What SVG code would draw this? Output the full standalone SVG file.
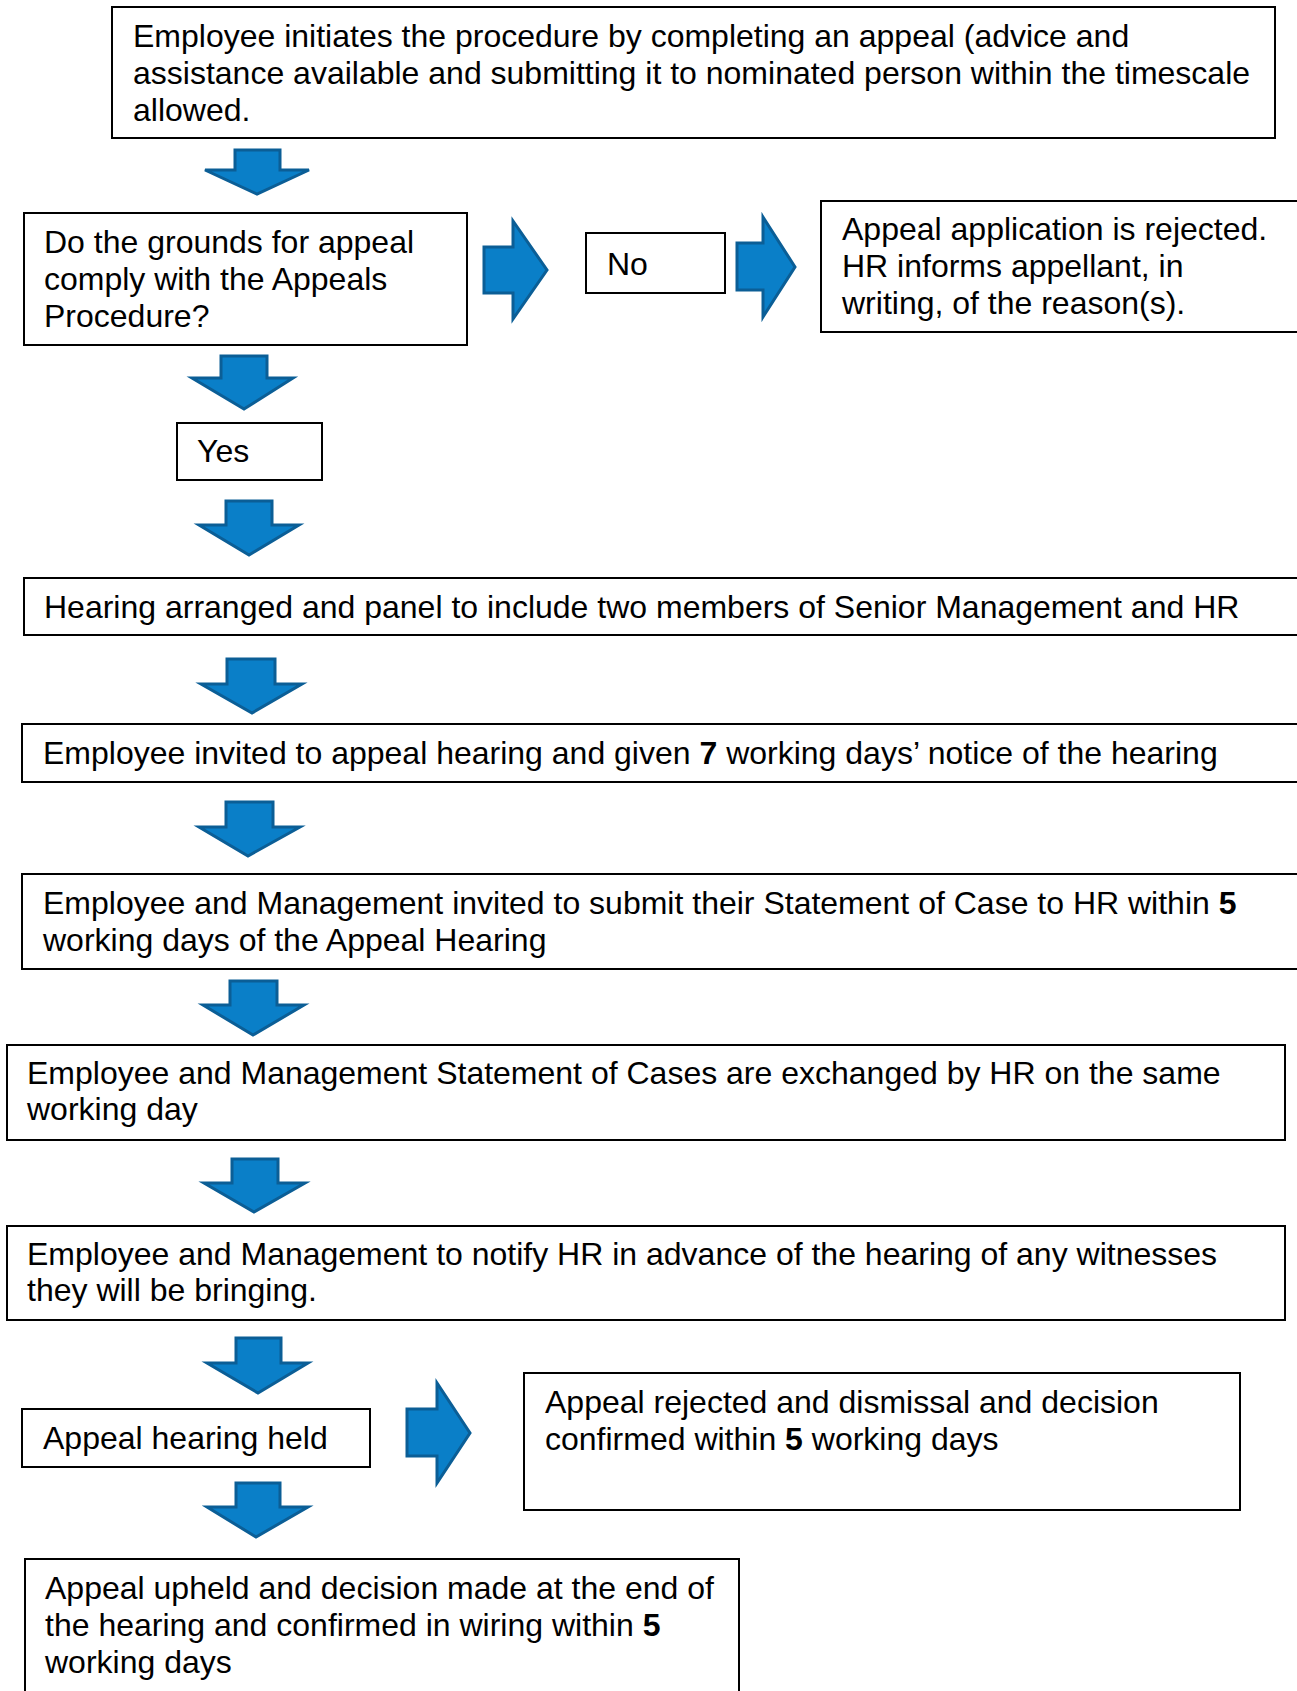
<svg xmlns="http://www.w3.org/2000/svg" width="1297" height="1691" viewBox="0 0 1297 1691">
<style>
.box{fill:#fff;stroke:#000;stroke-width:2}
.arr{fill:#0A7FC8;stroke:#0B5E96;stroke-width:3;stroke-linejoin:miter}
text{font-family:"Liberation Sans",Arial,sans-serif;font-size:32px;fill:#000}
.b{font-weight:bold}
</style>
<rect width="1297" height="1691" fill="#fff"/>
<g id="connectors">
<polygon class="arr" points="235,150 280,150 280,170 309,170 257,194 205,170 235,170"/>
<polygon class="arr" points="221,356 267,356 267,378 293,378 244,409 192,378 221,378"/>
<polygon class="arr" points="226,501 272,501 272,525 299,525 249,555 199,525 226,525"/>
<polygon class="arr" points="227,659 275,659 275,684 302,684 252,713 201,684 227,684"/>
<polygon class="arr" points="226,802 273,802 273,827 300,827 248,856 199,827 226,827"/>
<polygon class="arr" points="230,981 277,981 277,1005 304,1005 253,1035 203,1005 230,1005"/>
<polygon class="arr" points="232,1159 278,1159 278,1183 305,1183 254,1212 204,1183 232,1183"/>
<polygon class="arr" points="236,1338 281,1338 281,1363 308,1363 258,1393 207,1363 236,1363"/>
<polygon class="arr" points="236,1483 280,1483 280,1507 308,1507 256,1537 207,1507 236,1507"/>
<polygon class="arr" points="484,247 513,247 513,221 547,270 513,319 513,293 484,293"/>
<polygon class="arr" points="737,243 763,243 763,217 795,267 763,317 763,290 737,290"/>
<polygon class="arr" points="407,1409 437,1409 437,1383 470,1433 437,1483 437,1456 407,1456"/>
</g>
<g id="n1">
<rect class="box" x="112" y="7" width="1163" height="131"/>
<text x="133" y="47">Employee initiates the procedure by completing an appeal (advice and</text>
<text x="133" y="84">assistance available and submitting it to nominated person within the timescale</text>
<text x="133" y="121">allowed.</text>
</g>
<g id="n2">
<rect class="box" x="24" y="213" width="443" height="132"/>
<text x="44" y="253">Do the grounds for appeal</text>
<text x="44" y="290">comply with the Appeals</text>
<text x="44" y="327">Procedure?</text>
</g>
<g id="n3">
<rect class="box" x="586" y="233" width="139" height="60"/>
<text x="607" y="275">No</text>
</g>
<g id="n4">
<rect class="box" x="821" y="201" width="490" height="131"/>
<text x="842" y="240">Appeal application is rejected.</text>
<text x="842" y="277">HR informs appellant, in</text>
<text x="842" y="314">writing, of the reason(s).</text>
</g>
<g id="n5">
<rect class="box" x="177" y="423" width="145" height="57"/>
<text x="197" y="462">Yes</text>
</g>
<g id="n6">
<rect class="box" x="24" y="578" width="1290" height="57"/>
<text x="44" y="618">Hearing arranged and panel to include two members of Senior Management and HR</text>
</g>
<g id="n7">
<rect class="box" x="22" y="724" width="1290" height="58"/>
<text x="43" y="764">Employee invited to appeal hearing and given <tspan class="b">7</tspan> working days’ notice of the hearing</text>
</g>
<g id="n8">
<rect class="box" x="22" y="874" width="1290" height="95"/>
<text x="43" y="914">Employee and Management invited to submit their Statement of Case to HR within <tspan class="b">5</tspan></text>
<text x="43" y="951">working days of the Appeal Hearing</text>
</g>
<g id="n9">
<rect class="box" x="7" y="1045" width="1278" height="95"/>
<text x="27" y="1084">Employee and Management Statement of Cases are exchanged by HR on the same</text>
<text x="27" y="1120">working day</text>
</g>
<g id="n10">
<rect class="box" x="7" y="1226" width="1278" height="94"/>
<text x="27" y="1265">Employee and Management to notify HR in advance of the hearing of any witnesses</text>
<text x="27" y="1301">they will be bringing.</text>
</g>
<g id="n11">
<rect class="box" x="22" y="1409" width="348" height="58"/>
<text x="43" y="1449">Appeal hearing held</text>
</g>
<g id="n12">
<rect class="box" x="524" y="1373" width="716" height="137"/>
<text x="545" y="1413">Appeal rejected and dismissal and decision</text>
<text x="545" y="1450">confirmed within <tspan class="b">5</tspan> working days</text>
</g>
<g id="n13">
<rect class="box" x="25" y="1559" width="714" height="150"/>
<text x="45" y="1599">Appeal upheld and decision made at the end of</text>
<text x="45" y="1636">the hearing and confirmed in wiring within <tspan class="b">5</tspan></text>
<text x="45" y="1673">working days</text>
</g>
</svg>
